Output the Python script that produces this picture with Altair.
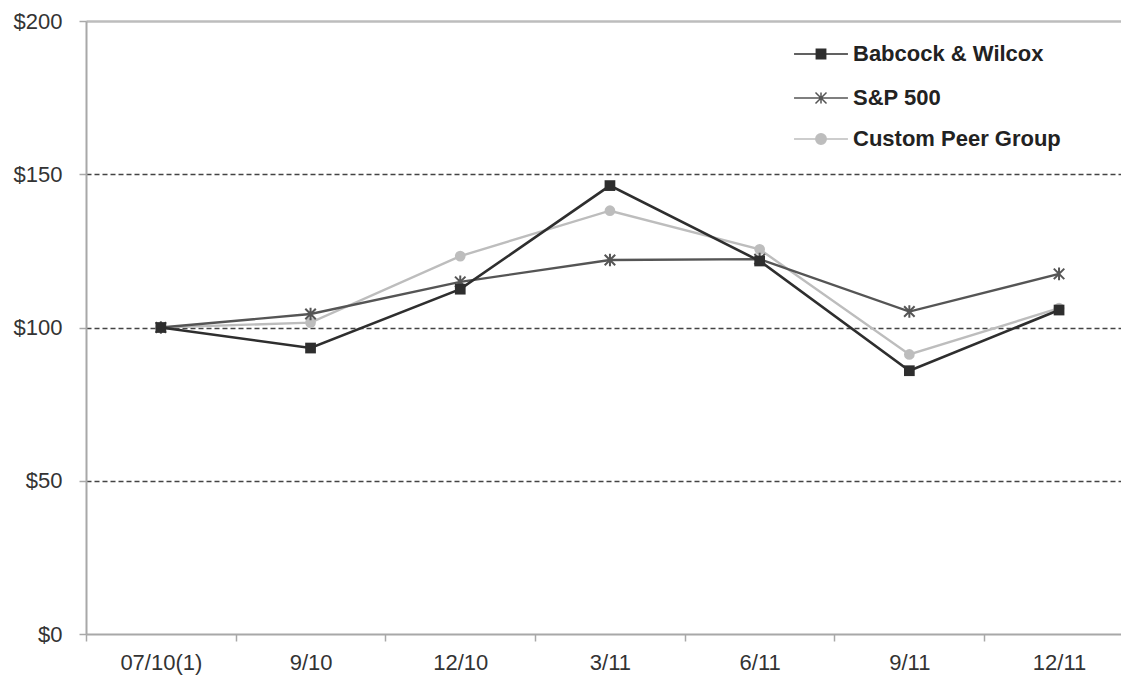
import altair as alt
import pandas as pd

periods = ["07/10(1)", "9/10", "12/10", "3/11", "6/11", "9/11", "12/11"]
series_names = ["Babcock & Wilcox", "S&P 500", "Custom Peer Group"]
babcock = [100, 93.3, 112.5, 146.3, 121.7, 85.9, 105.7]
sp500 = [100, 104.4, 114.9, 122.0, 122.3, 105.2, 117.5]
peer = [100, 101.6, 123.3, 138.1, 125.5, 91.2, 106.3]
y_ticks = [0, 50, 100, 150, 200]

rows = []
for name, vals in zip(series_names, [babcock, sp500, peer]):
    for i, (p, v) in enumerate(zip(periods, vals)):
        rows.append({"series": name, "idx": i, "period": p, "value": v})
df = pd.DataFrame(rows)

W, H = 1035, 613
STEP = 149.7
xmax = -0.5 + W / STEP
FONT = "Liberation Sans"
AXIS_GRAY = "#a8a8a8"

label_arr = "[" + ",".join("'" + p + "'" for p in periods) + "]"

x_enc = alt.X(
    "idx:Q",
    scale=alt.Scale(domain=[-0.5, xmax], nice=False, zero=False),
    axis=alt.Axis(
        values=[k / 2 for k in range(-1, 13)],
        labelExpr="datum.value % 1 == 0 ? " + label_arr + "[datum.value] : ''",
        title=None,
        grid=False,
        tickOpacity={"condition": {"test": "datum.value % 1 == 0", "value": 0}, "value": 1},
        tickSize=7,
        tickColor=AXIS_GRAY,
        tickWidth=1.5,
        domainColor=AXIS_GRAY,
        domainWidth=2,
        labelFont=FONT,
        labelFontSize=22,
        labelColor="#333",
        labelPadding=11,
        labelOverlap=False,
        labelFlush=False,
    ),
)

y_enc = alt.Y(
    "value:Q",
    scale=alt.Scale(domain=[0, 200], nice=False),
    axis=alt.Axis(
        values=y_ticks,
        labelExpr="'$' + datum.value",
        title=None,
        grid=True,
        gridDash={"condition": {"test": "datum.value == 200", "value": []}, "value": [5, 3]},
        gridColor={"condition": {"test": "datum.value == 200", "value": "#bdbdbd"}, "value": "#444"},
        gridWidth={"condition": {"test": "datum.value == 200", "value": 2.5}, "value": 1.6},
        gridOpacity={"condition": {"test": "datum.value == 0", "value": 0}, "value": 1},
        tickSize=7,
        tickColor=AXIS_GRAY,
        tickWidth=1.5,
        domainColor=AXIS_GRAY,
        domainWidth=2,
        labelFont=FONT,
        labelFontSize=22,
        labelColor="#333",
        labelPadding=17,
    ),
)

asterisk = "M-1,-1L1,1M-1,1L1,-1M0,-1.2V1.2"
styles = {
    "Custom Peer Group": dict(color="#bdbdbd", shape="circle", size=115, filled=True, lw=2.4,
                              lpath="M-4.9,0H4.9M0.95,0A0.95,0.95,0,1,1,-0.95,0A0.95,0.95,0,1,1,0.95,0Z"),
    "S&P 500": dict(color="#555555", shape=asterisk, size=110, filled=False, lw=2.4,
                    lpath="M-4.9,0H4.9" + asterisk.replace("M0,-1.2V1.2", "M0,-1V1")),
    "Babcock & Wilcox": dict(color="#2e2e2e", shape="square", size=115, filled=True, lw=2.6,
                             lpath="M-4.9,0H4.9M-0.85,-0.85H0.85V0.85H-0.85Z"),
}

layers = []
for name in ["Custom Peer Group", "S&P 500", "Babcock & Wilcox"]:
    s = styles[name]
    base = alt.Chart(df).transform_filter(alt.datum.series == name)
    layers.append(base.mark_line(color=s["color"], strokeWidth=s["lw"]).encode(x=x_enc, y=y_enc))
    layers.append(
        base.mark_point(shape=s["shape"], size=s["size"], filled=s["filled"], color=s["color"],
                        opacity=1, strokeWidth=2 if not s["filled"] else 0.5)
        .encode(x=x_enc, y=y_enc)
    )

legend_y = [22, 66, 107]
for name, ly in zip(series_names, legend_y):
    s = styles[name]
    layers.append(
        alt.Chart(df)
        .transform_filter("false")
        .mark_point(filled=True, color=s["color"], stroke=s["color"], strokeWidth=2, opacity=1)
        .encode(
            shape=alt.Shape(
                "series:N",
                scale=alt.Scale(domain=[name], range=[s["lpath"]]),
                legend=alt.Legend(
                    orient="none",
                    legendX=724,
                    legendY=ly,
                    title=None,
                    padding=0,
                    symbolSize=121,
                    labelOffset=21,
                    labelFont=FONT,
                    labelFontSize=22,
                    labelFontWeight="bold",
                    labelColor="#222",
                    labelLimit=400,
                ),
            )
        )
    )

chart = (
    alt.layer(*layers)
    .resolve_scale(shape="independent")
    .properties(
        width=W,
        height=H,
        autosize=alt.AutoSizeParams(type="none"),
        padding={"left": 86, "top": 21, "right": 0, "bottom": 49},
    )
    .configure_view(stroke=None)
    .configure(background="white")
)

chart.save("out.html", embed_options={"renderer": "svg", "actions": False})
